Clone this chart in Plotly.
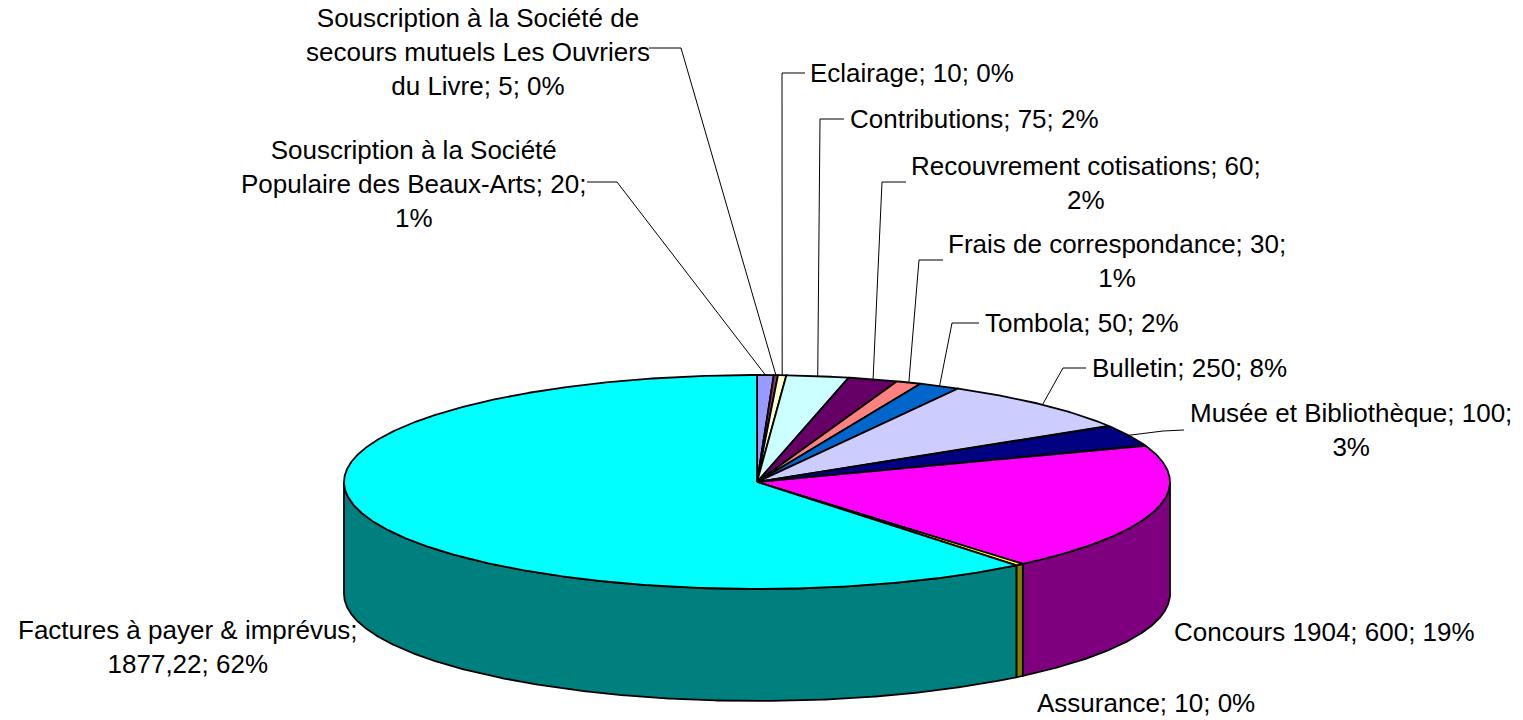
import textwrap
import numpy as np
import plotly.graph_objects as go

# ---------------- data ----------------
categories = [
    "Souscription à la Société Populaire des Beaux-Arts",
    "Souscription à la Société de secours mutuels Les Ouvriers du Livre",
    "Eclairage",
    "Contributions",
    "Recouvrement cotisations",
    "Frais de correspondance",
    "Tombola",
    "Bulletin",
    "Musée et Bibliothèque",
    "Concours 1904",
    "Assurance",
    "Factures à payer & imprévus",
]
values = [20, 5, 10, 75, 60, 30, 50, 250, 100, 600, 10, 1877.22]
value_labels = ["20", "5", "10", "75", "60", "30", "50", "250", "100", "600", "10", "1877,22"]
percent_labels = ["1%", "0%", "0%", "2%", "2%", "1%", "2%", "8%", "3%", "19%", "0%", "62%"]
top_colors = ["#9999FF", "#993366", "#FFFFCC", "#CCFFFF", "#660066", "#FF8080",
              "#0066CC", "#CCCCFF", "#000080", "#FF00FF", "#FFFF00", "#00FFFF"]

# ---------------- layout / geometry (pixels) ----------------
W, H = 1523, 720
CX, CY, RX, RY, DEPTH = 757, 482, 413, 107, 112
FONT = dict(family="Liberation Sans, Arial, sans-serif", size=26, color="black")
EDGE = 1.8

# label placement: (x, y, xanchor, leader path points from label side to elbow)
label_pos = [
    (413, 184, "center", [(587, 182), (617, 182)]),
    (478, 52, "center", [(649, 48), (681, 48)]),
    (808, 73, "left", [(805, 73), (782, 73)]),
    (848, 119, "left", [(844, 119), (820, 119)]),
    (1086, 183, "center", [(906, 182), (882, 182)]),
    (1117, 261, "center", [(943, 260), (919, 260)]),
    (983, 323, "left", [(979, 323), (952, 323)]),
    (1090, 368, "left", [(1086, 368), (1063, 368)]),
    (1351, 430, "center", [(1184, 430), (1163, 431)]),
    (1172, 632, "left", None),
    (1035, 703, "left", None),
    (188, 647, "center", None),
]


def darken(hexc):
    h = hexc.lstrip("#")
    r, g, b = (int(h[i:i + 2], 16) for i in (0, 2, 4))
    return "#%02X%02X%02X" % (r // 2, g // 2, b // 2)


def ell(theta_deg, dy=0.0):
    t = np.radians(theta_deg)
    return CX + RX * np.sin(t), CY - RY * np.cos(t) + dy


total = float(sum(values))
cum = np.concatenate([[0.0], np.cumsum(values)]) / total * 360.0

fig = go.Figure()

# sides (front half only: 90..270 deg clockwise from top)
for i, col in enumerate(top_colors):
    a0, a1 = max(cum[i], 90.0), min(cum[i + 1], 270.0)
    if a1 <= a0:
        continue
    th = np.linspace(a0, a1, max(2, int((a1 - a0) * 4) + 2))
    xt, yt = ell(th)
    xb, yb = ell(th[::-1], DEPTH)
    xs = np.concatenate([xt, xb, xt[:1]])
    ys = np.concatenate([yt, yb, yt[:1]])
    fig.add_trace(go.Scatter(x=xs, y=ys, mode="lines", fill="toself",
                             fillcolor=darken(col), line=dict(color="black", width=EDGE),
                             hoverinfo="skip", showlegend=False))

# top faces
for i, col in enumerate(top_colors):
    a0, a1 = cum[i], cum[i + 1]
    th = np.linspace(a0, a1, max(2, int((a1 - a0) * 4) + 2))
    xa, ya = ell(th)
    xs = np.concatenate([[CX], xa, [CX]])
    ys = np.concatenate([[CY], ya, [CY]])
    fig.add_trace(go.Scatter(x=xs, y=ys, mode="lines", fill="toself",
                             fillcolor=col, line=dict(color="black", width=EDGE),
                             hoverinfo="skip", showlegend=False))

# labels and leader lines
for i, name in enumerate(categories):
    x, y, xa, path = label_pos[i]
    text = f"{name}; {value_labels[i]}; {percent_labels[i]}"
    lines = textwrap.wrap(text, width=29)
    fig.add_annotation(x=x, y=y, xref="x", yref="y", text="<br>".join(lines),
                       showarrow=False, xanchor=xa, yanchor="middle",
                       align="center", font=FONT)
    if path is not None:
        mid = (cum[i] + cum[i + 1]) / 2.0
        ax, ay = ell(mid)
        px = [p[0] for p in path] + [ax]
        py = [p[1] for p in path] + [ay]
        fig.add_trace(go.Scatter(x=px, y=py, mode="lines",
                                 line=dict(color="black", width=1),
                                 hoverinfo="skip", showlegend=False))

fig.update_layout(
    width=W, height=H, autosize=False,
    margin=dict(l=0, r=0, t=0, b=0),
    paper_bgcolor="white", plot_bgcolor="white",
    xaxis=dict(range=[0, W], visible=False, fixedrange=True),
    yaxis=dict(range=[H, 0], visible=False, fixedrange=True),
    showlegend=False,
)

fig.write_html("out.html", config={"displayModeBar": False},
               post_script="document.body.style.margin='0';")
